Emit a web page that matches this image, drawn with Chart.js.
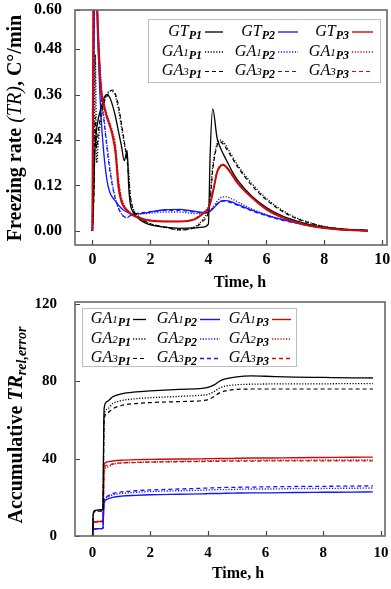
<!DOCTYPE html>
<html>
<head>
<meta charset="utf-8">
<title>Freezing rate and accumulative error</title>
<script src="https://cdn.jsdelivr.net/npm/chart.js@4.4.1/dist/chart.umd.min.js"></script>
<style>
html,body{margin:0;padding:0;background:#fff;overflow:hidden;}
canvas{display:block;position:absolute;left:0;}
#rateChart{top:0;}
#accChart{top:290px;}
</style>
</head>
<body>
<canvas id="rateChart" width="391" height="290"></canvas>
<canvas id="accChart" width="391" height="299"></canvas>
<script>
// ---------------- data: freezing rate (C°/min) ----------------
const hoursRate = [0.00,0.03,0.06,0.10,0.15,0.20,0.30,0.40,0.50,0.60,0.70,0.80,0.90,1.00,1.10,1.20,1.25,1.30,1.40,1.60,1.80,2.00,2.50,3.00,3.50,3.80,4.00,4.06,4.15,4.30,4.40,4.50,4.60,4.80,5.00,5.50,6.00,6.50,7.00,7.50,8.00,8.50,9.00,9.50];
const rateGT_P1  = [0.000,0.060,0.150,0.230,0.270,0.295,0.325,0.350,0.360,0.352,0.330,0.300,0.262,0.225,0.185,0.212,0.120,0.075,0.050,0.032,0.022,0.016,0.010,0.007,0.008,0.010,0.018,0.200,0.322,0.245,0.222,0.205,0.190,0.160,0.135,0.092,0.062,0.041,0.027,0.017,0.010,0.006,0.003,0.002];
const rateGA1_P1 = [0.000,0.050,0.150,0.465,0.180,0.230,0.300,0.340,0.360,0.370,0.368,0.355,0.320,0.275,0.230,0.190,0.160,0.100,0.060,0.038,0.026,0.019,0.010,0.003,0.010,0.030,0.060,0.090,0.170,0.230,0.240,0.236,0.226,0.200,0.175,0.125,0.086,0.057,0.036,0.022,0.012,0.006,0.003,0.001];
const rateGA3_P1 = [0.000,0.040,0.120,0.300,0.220,0.260,0.310,0.340,0.355,0.368,0.372,0.360,0.330,0.285,0.235,0.185,0.140,0.095,0.058,0.037,0.026,0.019,0.010,0.003,0.008,0.025,0.050,0.080,0.160,0.225,0.235,0.230,0.220,0.195,0.170,0.120,0.082,0.054,0.034,0.021,0.011,0.006,0.003,0.001];
const rateGT_P2  = [0.000,0.250,0.550,0.750,0.620,0.480,0.300,0.200,0.135,0.102,0.088,0.078,0.068,0.060,0.054,0.050,0.048,0.046,0.044,0.045,0.047,0.050,0.056,0.057,0.052,0.049,0.050,0.052,0.058,0.070,0.077,0.080,0.080,0.077,0.070,0.055,0.042,0.031,0.022,0.014,0.008,0.004,0.002,0.001];
const rateGA1_P2 = [0.000,0.200,0.500,0.700,0.650,0.540,0.380,0.300,0.230,0.170,0.120,0.085,0.060,0.045,0.036,0.035,0.037,0.040,0.044,0.046,0.046,0.047,0.050,0.050,0.046,0.046,0.050,0.054,0.062,0.078,0.086,0.090,0.090,0.085,0.077,0.058,0.043,0.031,0.022,0.014,0.008,0.004,0.002,0.001];
const rateGA3_P2 = [0.000,0.220,0.520,0.720,0.640,0.520,0.360,0.290,0.220,0.160,0.115,0.083,0.060,0.046,0.038,0.037,0.038,0.040,0.044,0.047,0.049,0.051,0.054,0.054,0.050,0.048,0.050,0.053,0.060,0.072,0.077,0.079,0.078,0.074,0.068,0.053,0.040,0.029,0.021,0.013,0.008,0.004,0.002,0.001];
const rateGT_P3  = [0.000,0.550,0.900,0.850,0.620,0.500,0.370,0.330,0.300,0.278,0.250,0.205,0.115,0.078,0.062,0.054,0.050,0.046,0.041,0.035,0.030,0.027,0.025,0.025,0.030,0.045,0.060,0.072,0.100,0.155,0.170,0.174,0.170,0.150,0.127,0.088,0.057,0.037,0.023,0.014,0.008,0.004,0.002,0.000];
const rateGA1_P3 = [0.000,0.500,0.850,0.800,0.650,0.540,0.390,0.340,0.310,0.285,0.262,0.225,0.140,0.090,0.068,0.056,0.052,0.048,0.043,0.037,0.032,0.029,0.026,0.026,0.032,0.047,0.062,0.074,0.102,0.157,0.172,0.176,0.172,0.152,0.130,0.090,0.059,0.038,0.024,0.015,0.009,0.005,0.002,0.001];
const rateGA3_P3 = [0.000,0.520,0.880,0.820,0.640,0.520,0.380,0.335,0.305,0.280,0.255,0.215,0.130,0.085,0.065,0.055,0.051,0.047,0.042,0.036,0.031,0.028,0.025,0.025,0.031,0.046,0.061,0.073,0.101,0.156,0.171,0.175,0.171,0.151,0.128,0.089,0.058,0.037,0.023,0.014,0.008,0.004,0.002,0.000];

// ---------------- data: accumulative TR rel,error ----------------
const hoursAcc = [0.00,0.02,0.05,0.10,0.20,0.30,0.36,0.38,0.40,0.50,0.70,1.00,1.50,2.00,3.00,3.80,4.00,4.20,4.40,4.60,5.00,5.50,6.00,7.00,8.00,9.00,9.72];
const accGA1_P1 = [0,11.0,13.0,13.3,13.5,13.6,13.7,45.0,66.0,69.5,72.0,73.5,74.5,75.0,75.8,76.3,76.8,78.0,80.0,81.2,82.3,82.8,82.6,82.2,82.0,81.8,81.7];
const accGA2_P1 = [0,10.5,12.6,12.9,13.1,13.2,13.3,42.0,62.0,65.5,68.5,70.0,71.0,71.5,72.2,72.8,73.2,74.5,76.5,77.5,78.2,78.5,78.6,78.7,78.7,78.8,78.8];
const accGA3_P1 = [0,10.0,12.3,12.6,12.8,12.9,13.0,40.0,60.0,63.5,65.8,67.5,68.5,69.0,69.5,70.0,70.5,72.0,74.0,75.0,75.8,76.0,76.0,76.0,76.0,76.0,76.0];
const accGA1_P2 = [0,3.0,3.6,3.7,3.8,3.8,3.9,12.0,17.0,19.0,20.0,20.6,21.0,21.3,21.6,21.8,21.9,22.0,22.0,22.1,22.2,22.3,22.3,22.5,22.6,22.7,22.8];
const accGA2_P2 = [0,3.0,3.6,3.7,3.8,3.8,3.9,12.5,18.0,20.0,21.3,22.0,22.6,23.0,23.4,23.7,23.8,23.9,24.0,24.0,24.1,24.3,24.3,24.5,24.6,24.7,24.8];
const accGA3_P2 = [0,3.0,3.6,3.7,3.8,3.8,3.9,12.5,18.5,20.5,22.0,22.8,23.4,23.8,24.3,24.7,24.8,24.9,25.0,25.1,25.2,25.3,25.4,25.6,25.7,25.8,25.9];
const accGA1_P3 = [0,6.0,7.2,7.4,7.5,7.6,7.7,25.0,37.0,38.3,38.8,39.2,39.5,39.6,39.8,39.9,40.0,40.0,40.1,40.1,40.2,40.3,40.3,40.5,40.6,40.7,40.8];
const accGA2_P3 = [0,5.8,7.0,7.2,7.3,7.4,7.5,22.0,33.0,35.5,37.0,37.8,38.1,38.3,38.6,38.8,38.9,38.9,39.0,39.0,39.1,39.1,39.2,39.2,39.3,39.3,39.3];
const accGA3_P3 = [0,5.9,7.1,7.3,7.4,7.5,7.6,23.0,35.0,36.5,37.3,37.8,38.0,38.2,38.4,38.5,38.6,38.6,38.6,38.7,38.7,38.7,38.8,38.8,38.8,38.8,38.8];

// ---------------- ticks and labels ----------------
const timeTicks = [0, 2, 4, 6, 8, 10];
const rateTicks = [0, 0.12, 0.24, 0.36, 0.48, 0.60];
const rateTickLabels = ['0.00', '0.12', '0.24', '0.36', '0.48', '0.60'];
const accTicks = [0, 40, 80, 120];
const places = ['P1', 'P2', 'P3'];
const rateMethods = ['GT', 'GA1', 'GA3'];
const accMethods = ['GA1', 'GA2', 'GA3'];
const timeTitle = 'Time, h';

// ---------------- styles ----------------
const SERIF_NAME = '"Liberation Serif", "Times New Roman", serif';
const font = (style, size) => style + ' ' + size + 'px ' + SERIF_NAME;
const placeColors = ['#000000', '#1414ff', '#cc0a0a'];
const DOT = [1.2, 1.6], DASH = [4, 3], SOLID = [];

function drawRich(ctx, x, y, parts, align) {
  let w = 0;
  parts.forEach(p => { ctx.font = p.f; p.w = ctx.measureText(p.t).width; w += p.w; });
  let cx = align === 'right' ? x - w : (align === 'center' ? x - w / 2 : x);
  ctx.textAlign = 'left';
  ctx.textBaseline = 'alphabetic';
  ctx.fillStyle = '#000';
  parts.forEach(p => { ctx.font = p.f; ctx.fillText(p.t, cx, y + (p.dy || 0)); cx += p.w; });
}

function legendParts(method, place) {
  const m = method.match(/^([A-Z]+)(\d*)$/);
  const parts = [{ t: m[1], f: font('italic', 16) }];
  if (m[2]) parts.push({ t: m[2], f: font('italic', 11) });
  parts.push({ t: place, f: font('bold italic', 12), dy: 3 });
  return parts;
}

const decor = {
  id: 'decor',
  afterDatasetsDraw(chart, args, o) {
    const { ctx, chartArea: a, scales: { x, y } } = chart;
    ctx.save();
    // inward tick marks
    ctx.strokeStyle = '#444';
    ctx.lineWidth = 1.2;
    ctx.setLineDash([]);
    ctx.beginPath();
    x.ticks.forEach(t => { const px = Math.round(x.getPixelForValue(t.value)) + 0.5; ctx.moveTo(px, a.bottom); ctx.lineTo(px, a.bottom - 5); });
    y.ticks.forEach(t => { const py = Math.round(y.getPixelForValue(t.value)) + 0.5; ctx.moveTo(a.left, py); ctx.lineTo(a.left + 5, py); });
    ctx.stroke();
    // frame
    ctx.strokeStyle = '#666';
    ctx.lineWidth = 1.6;
    ctx.strokeRect(a.left, a.top, a.right - a.left, a.bottom - a.top);
    ctx.restore();
  },
  afterDraw(chart, args, o) {
    const ctx = chart.ctx;
    ctx.save();
    // axis titles
    drawRich(ctx, o.xTitleX, o.xTitleY, [{ t: timeTitle, f: font('bold', 16) }], 'center');
    ctx.save();
    ctx.translate(o.yTitleX, o.yTitleY);
    ctx.rotate(-Math.PI / 2);
    drawRich(ctx, 0, 0, o.yTitle, 'center');
    ctx.restore();
    // legend
    const L = o.legend;
    ctx.fillStyle = '#fff';
    ctx.fillRect(L.box[0], L.box[1], L.box[2] - L.box[0], L.box[3] - L.box[1]);
    ctx.strokeStyle = '#bdbdbd';
    ctx.lineWidth = 1;
    ctx.strokeRect(L.box[0] + 0.5, L.box[1] + 0.5, L.box[2] - L.box[0], L.box[3] - L.box[1]);
    chart.data.datasets.forEach(ds => {
      const base = L.rows[ds.row];
      const col = L.cols[ds.col];
      drawRich(ctx, col[0], base, legendParts(L.methods[ds.row], places[ds.col]), 'right');
      ctx.strokeStyle = ds.borderColor;
      ctx.lineWidth = Math.min(ds.borderWidth, 1.4);
      ctx.setLineDash(ds.borderDash);
      ctx.beginPath();
      ctx.moveTo(col[1], base - 3.5);
      ctx.lineTo(col[2], base - 3.5);
      ctx.stroke();
    });
    ctx.restore();
  }
};

function series(hours, values, row, col, dash, width) {
  return {
    data: hours.map((t, i) => ({ x: t, y: values[i] })),
    row, col,
    borderColor: placeColors[col],
    borderDash: dash,
    borderWidth: width,
    pointRadius: 0,
    fill: false,
    cubicInterpolationMode: 'monotone'
  };
}

function xScale(min, max, size, pad, h) {
  return {
    type: 'linear', min, max,
    afterBuildTicks: s => { s.ticks = timeTicks.map(v => ({ value: v })); },
    afterFit: s => { s.height = h; s.paddingLeft = 0; s.paddingRight = 0; },
    ticks: { font: { family: SERIF_NAME, size, weight: 'bold' }, color: '#000', padding: pad, maxRotation: 0, autoSkip: false, callback: v => String(v) },
    grid: { display: false, drawTicks: false },
    border: { display: false }
  };
}

function yScale(min, max, ticks, labels, size, pad) {
  return {
    type: 'linear', min, max,
    afterBuildTicks: s => { s.ticks = ticks.map(v => ({ value: Math.min(v, s.max) })); },
    afterFit: s => { s.width = 75; s.paddingTop = 0; s.paddingBottom = 0; },
    ticks: { font: { family: SERIF_NAME, size, weight: 'bold' }, color: '#000', padding: pad, autoSkip: false, callback: (v, i) => labels[i] },
    grid: { display: false, drawTicks: false },
    border: { display: false }
  };
}

// ---------------- chart 1: freezing rate ----------------
new Chart(document.getElementById('rateChart'), {
  type: 'line',
  data: {
    datasets: [
      series(hoursRate, rateGT_P3, 0, 2, SOLID, 2.0),
      series(hoursRate, rateGT_P1, 0, 0, SOLID, 1.3),
      series(hoursRate, rateGA1_P1, 1, 0, DOT, 1.3),
      series(hoursRate, rateGA3_P1, 2, 0, DASH, 1.2),
      series(hoursRate, rateGT_P2, 0, 1, SOLID, 1.3),
      series(hoursRate, rateGA1_P2, 1, 1, DOT, 1.3),
      series(hoursRate, rateGA3_P2, 2, 1, DASH, 1.2),
      series(hoursRate, rateGA1_P3, 1, 2, DOT, 1.3),
      series(hoursRate, rateGA3_P3, 2, 2, DASH, 1.2)
    ]
  },
  options: {
    responsive: false,
    animation: false,
    layout: { padding: { top: 10, right: 4, left: 0, bottom: 0 } },
    scales: {
      x: xScale(-0.60, 10.16, 16, 5, 45),
      y: yScale(-0.037, 0.583, rateTicks, rateTickLabels, 16, 13)
    },
    plugins: {
      legend: { display: false },
      tooltip: { enabled: false },
      decor: {
        xTitleX: 240, xTitleY: 286.5,
        yTitleX: 21, yTitleY: 128,
        yTitle: [
          { t: 'Freezing rate ', f: font('bold', 20) },
          { t: '(TR)', f: font('italic', 20) },
          { t: ', C°/min', f: font('bold', 20) }
        ],
        legend: {
          box: [148, 19, 380, 82],
          rows: [35.5, 55.5, 75],
          cols: [[202, 205, 223], [275, 278, 298], [349, 352, 373]],
          methods: rateMethods
        }
      }
    }
  },
  plugins: [decor]
});

// ---------------- chart 2: accumulative error ----------------
new Chart(document.getElementById('accChart'), {
  type: 'line',
  data: {
    datasets: [
      series(hoursAcc, accGA1_P1, 0, 0, SOLID, 1.3),
      series(hoursAcc, accGA2_P1, 1, 0, DOT, 1.3),
      series(hoursAcc, accGA3_P1, 2, 0, DASH, 1.2),
      series(hoursAcc, accGA1_P2, 0, 1, SOLID, 1.4),
      series(hoursAcc, accGA2_P2, 1, 1, DOT, 1.4),
      series(hoursAcc, accGA3_P2, 2, 1, DASH, 1.3),
      series(hoursAcc, accGA1_P3, 0, 2, SOLID, 1.4),
      series(hoursAcc, accGA2_P3, 1, 2, DOT, 1.4),
      series(hoursAcc, accGA3_P3, 2, 2, DASH, 1.3)
    ]
  },
  options: {
    responsive: false,
    animation: false,
    layout: { padding: { top: 12, right: 6, left: 0, bottom: 0 } },
    scales: {
      x: xScale(-0.61, 10.14, 15, 8, 53),
      y: yScale(0, 121, accTicks, accTicks.map(String), 15, 18)
    },
    plugins: {
      legend: { display: false },
      tooltip: { enabled: false },
      decor: {
        xTitleX: 238, xTitleY: 288,
        yTitleX: 22, yTitleY: 135,
        yTitle: [
          { t: 'Accumulative ', f: font('bold', 20) },
          { t: 'TR', f: font('bold italic', 20) },
          { t: 'rel,error', f: font('bold italic', 14), dy: 4 }
        ],
        legend: {
          box: [82, 18, 296, 76],
          rows: [33, 52.5, 72],
          cols: [[131, 133, 146], [197, 200, 220], [269, 272, 291]],
          methods: accMethods
        }
      }
    }
  },
  plugins: [decor]
});
</script>
</body>
</html>
